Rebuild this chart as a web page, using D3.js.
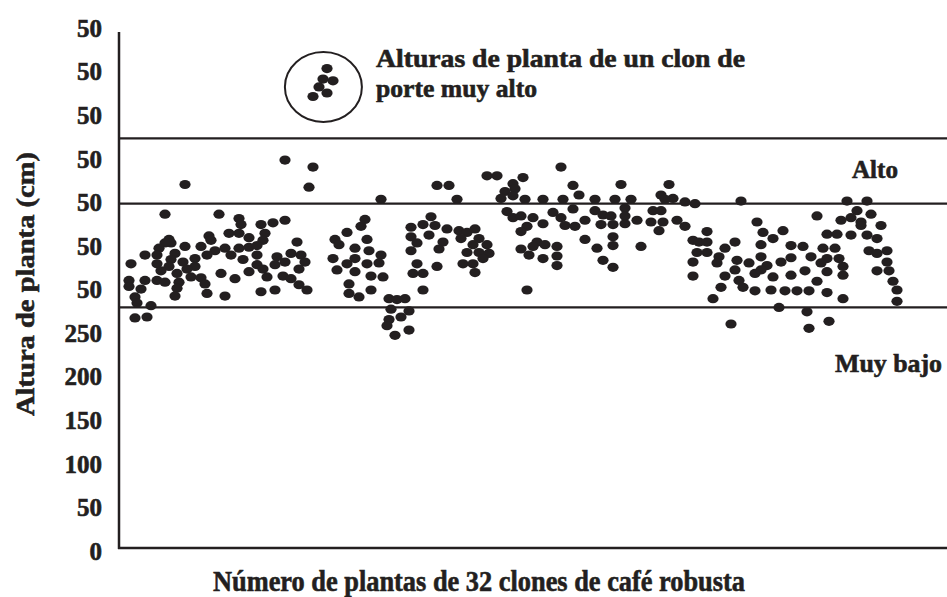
<!DOCTYPE html>
<html>
<head>
<meta charset="utf-8">
<script src="https://cdn.jsdelivr.net/npm/d3@7"></script>
<style>
  body { margin: 0; background: #fff; }
  text { font-family: "Liberation Serif", "Times New Roman", serif; font-weight: bold; fill: #231f20; stroke: #231f20; stroke-width: 0.6px; }
</style>
</head>
<body>
<svg id="chart" width="947" height="597"></svg>
<script>
// plant number (x) and plant height in cm (y)
const plantPoints = [
  [83,445],[97,437],[95,414],[33,417],[23,383],[50,383],[60,378],[61,371],[71,371],[77,373],
  [83,376],[45,358],[46,353],[55,361],[60,361],[65,356],[73,361],[72,353],[25,354],[26,350],
  [23,350],[20,344],[19,336],[13,336],[6,326],[33,346],[41,346],[48,341],[53,344],[60,344],
  [65,345],[69,347],[44,336],[56,336],[69,336],[62,331],[28,338],[26,331],[38,332],[32,328],
  [19,326],[25,323],[21,318],[38,323],[34,320],[29,315],[36,311],[41,310],[51,315],[58,309],
  [65,317],[69,325],[72,320],[74,311],[79,334],[78,325],[83,328],[86,338],[89,351],[91,336],
  [93,328],[90,320],[82,312],[86,309],[90,302],[94,296],[78,296],[71,294],[5,307],[5,300],
  [11,297],[13,307],[19,307],[23,305],[30,305],[29,298],[28,289],[43,303],[44,292],[53,289],
  [8,288],[9,281],[16,278],[8,264],[14,265],
  [184,427],[189,427],[202,425],[159,416],[165,416],[197,418],[198,412],[193,409],[131,400],[169,400],
  [191,401],[197,404],[203,400],[194,386],[197,379],[201,381],[204,369],[201,363],[201,343],[205,336],
  [204,296],[123,377],[121,369],[114,362],[108,354],[110,348],[124,354],[118,344],[125,341],[131,336],
  [107,332],[114,326],[118,332],[124,326],[130,327],[109,319],[118,317],[126,312],[132,311],[115,303],
  [115,292],[120,288],[126,296],[135,286],[139,285],[143,286],[136,274],[145,272],[141,265],[135,262],
  [134,255],[138,244],[145,250],[156,380],[152,371],[158,370],[146,368],[164,366],[155,359],[146,357],
  [149,350],[162,351],[160,343],[146,341],[149,326],[147,315],[152,315],[159,323],[152,296],[170,364],
  [174,362],[178,366],[171,355],[180,355],[177,348],[184,348],[174,339],[180,339],[185,338],[182,332],
  [172,326],[177,326],[178,316],
  [221,437],[251,417],[275,417],[227,416],[230,405],[271,405],[212,400],[222,400],[238,400],[248,400],
  [256,400],[277,401],[273,400],[283,397],[288,395],[227,389],[217,385],[221,379],[207,379],[212,372],
  [223,370],[228,369],[233,376],[238,387],[242,382],[246,381],[253,390],[253,381],[253,372],[241,371],
  [247,371],[259,376],[267,387],[271,387],[266,374],[272,374],[279,376],[283,369],[270,364],[247,357],
  [233,354],[247,347],[261,346],[239,344],[242,330],[247,322],[209,351],[213,348],[207,346],[219,346],
  [212,332],[219,335],[219,324],[287,353],[294,363],[290,351],[294,351],[289,339],[294,339],[287,328],
  [287,312],[300,334],[299,327],[303,344],[303,312],[301,299],[297,286],[306,257],
  [311,398],[364,398],[374,398],[349,381],[369,387],[366,379],[361,376],[376,383],[371,374],[371,370],
  [381,370],[319,374],[322,362],[332,364],[327,355],[354,360],[359,360],[366,359],[374,359],[379,355],
  [308,351],[321,348],[336,347],[342,346],[352,344],[358,344],[375,341],[379,338],[384,341],[321,334],
  [336,333],[346,334],[354,332],[360,332],[384,328],[309,330],[315,327],[324,324],[331,328],[351,327],
  [362,323],[308,319],[318,315],[321,319],[327,311],[336,313],[343,318],[354,317],[362,313],[379,318],
  [385,318],[310,307],[349,306],[387,306],[312,299],[318,295],[326,296],[333,295],[339,295],[345,295],
  [354,293],[389,296],[362,286],[389,283],[330,276],[344,271],[345,252],[355,260]
]

// the very tall clone shown in the callout
const tallClone = [[104,550],[102,538],[107,536],[100,529],[104,522],[97,518]]

const yTickValues = [0, 50, 100, 150, 200, 250, 300, 350, 400, 450, 500, 550, 600]
const yTickLabels = ['0', '50', '100', '150', '200', '250', '50', '50', '50', '50', '50', '50', '50']

// class limits (cm)
const limits = [470, 395, 276]

const ink = '#231f20'
const svg = d3.select('#chart')

const x = d3.scaleLinear().domain([0, 414]).range([119, 947])
const y = d3.scaleLinear().domain([0, 600]).range([548, 25])

// y axis labels only (no ticks)
const yAxis = svg.append('g')
  .attr('transform', `translate(${x(0)},0)`)
  .call(d3.axisLeft(y).tickValues(yTickValues).tickFormat((d, i) => yTickLabels[i]).tickSize(0).tickPadding(17))
yAxis.select('.domain').remove()
yAxis.selectAll('text')
  .attr('dy', '0.45em')
  .style('font-size', '25px')
  .style('fill', ink)

// axis lines
svg.append('line')
  .attr('x1', x(0)).attr('x2', x(0))
  .attr('y1', y(0) + 1).attr('y2', y(592))
  .attr('stroke', ink).attr('stroke-width', 2.5)
svg.append('line')
  .attr('x1', x(0) - 1).attr('x2', x(414))
  .attr('y1', y(0)).attr('y2', y(0))
  .attr('stroke', ink).attr('stroke-width', 2.5)

// class limit lines
svg.selectAll('line.limit')
  .data(limits)
  .join('line')
  .attr('class', 'limit')
  .attr('x1', x(0)).attr('x2', x(414))
  .attr('y1', d => y(d)).attr('y2', d => y(d))
  .attr('stroke', ink).attr('stroke-width', 2.2)

// plants
svg.selectAll('ellipse.plant')
  .data(plantPoints.concat(tallClone))
  .join('ellipse')
  .attr('class', 'plant')
  .attr('cx', d => x(d[0]))
  .attr('cy', d => y(d[1]))
  .attr('rx', 5.6)
  .attr('ry', 4.6)
  .attr('fill', ink)

// callout ring round the tall clone
svg.append('ellipse')
  .attr('cx', x(102.2)).attr('cy', y(529))
  .attr('rx', 38.5).attr('ry', 35)
  .attr('fill', 'none')
  .attr('stroke', ink).attr('stroke-width', 2)

svg.append('text')
  .attr('x', 376).attr('y', 67)
  .style('font-size', '25px')
  .attr('textLength', 369).attr('lengthAdjust', 'spacingAndGlyphs')
  .text('Alturas de planta de un clon de')
svg.append('text')
  .attr('x', 376).attr('y', 97)
  .style('font-size', '25px')
  .attr('textLength', 161).attr('lengthAdjust', 'spacingAndGlyphs')
  .text('porte muy alto')

svg.append('text')
  .attr('x', 852).attr('y', 178)
  .style('font-size', '26px')
  .attr('textLength', 46).attr('lengthAdjust', 'spacingAndGlyphs')
  .text('Alto')
svg.append('text')
  .attr('x', 835).attr('y', 372)
  .style('font-size', '26px')
  .attr('textLength', 107).attr('lengthAdjust', 'spacingAndGlyphs')
  .text('Muy bajo')

// axis titles
svg.append('text')
  .attr('x', 479).attr('y', 591)
  .attr('text-anchor', 'middle')
  .style('font-size', '30px')
  .attr('textLength', 532).attr('lengthAdjust', 'spacingAndGlyphs')
  .text('Número de plantas de 32 clones de café robusta')
svg.append('text')
  .attr('transform', 'translate(34,284) rotate(-90)')
  .attr('text-anchor', 'middle')
  .style('font-size', '26px')
  .attr('textLength', 264).attr('lengthAdjust', 'spacingAndGlyphs')
  .text('Altura de planta (cm)')
</script>
</body>
</html>
